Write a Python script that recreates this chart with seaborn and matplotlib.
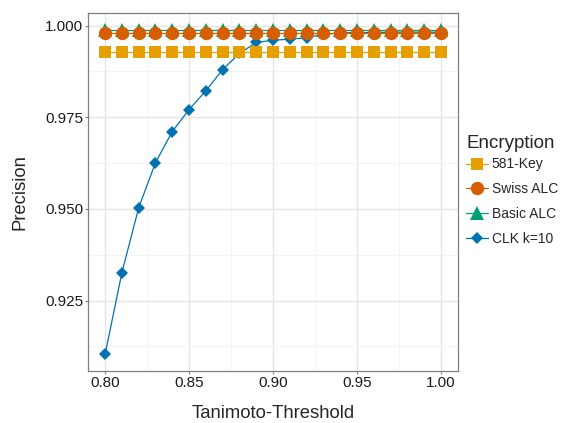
import matplotlib
matplotlib.use("Agg")
import matplotlib.pyplot as plt
import numpy as np
import pandas as pd
import seaborn as sns
from matplotlib.ticker import MultipleLocator

# data
thresholds = [0.80, 0.81, 0.82, 0.83, 0.84, 0.85, 0.86, 0.87, 0.88, 0.89, 0.90,
              0.91, 0.92, 0.93, 0.94, 0.95, 0.96, 0.97, 0.98, 0.99, 1.00]
key581 = [0.9927] * 21
swiss_alc = [0.9981] * 21
basic_alc = [0.9989] * 21
clk_k10 = [0.9103, 0.9326, 0.9503, 0.9626, 0.9711, 0.9771, 0.9822, 0.9880, 0.9924,
           0.9954, 0.9960, 0.9963, 0.9967, 0.9976, 0.9980, 0.9981, 0.9981, 0.9982,
           0.9982, 0.9982, 0.9982]

series_names = ["581-Key", "Swiss ALC", "Basic ALC", "CLK k=10"]
series_vals = [key581, swiss_alc, basic_alc, clk_k10]
colors = ["#E69F00", "#D55E00", "#009E73", "#0072B2"]
markers = ["s", "o", "^", "D"]
marker_sizes = [8.9, 9.6, 10.5, 6.3]
zorders = [3, 5, 4, 2.5]

df = pd.concat(
    [pd.DataFrame({"threshold": thresholds, "precision": v, "Encryption": n})
     for n, v in zip(series_names, series_vals)],
    ignore_index=True,
)

sns.set_style("white")
plt.rcParams["font.family"] = ["Liberation Sans", "DejaVu Sans"]

fig = plt.figure(figsize=(5.66, 4.23), dpi=100)
ax = fig.add_axes([0.156, 0.123, 0.653, 0.846])

sns.lineplot(
    data=df, x="threshold", y="precision",
    hue="Encryption", style="Encryption",
    hue_order=series_names, style_order=series_names,
    palette=dict(zip(series_names, colors)),
    markers=dict(zip(series_names, markers)),
    dashes=False, markersize=9, markeredgewidth=0, linewidth=0.9, ax=ax,
)

# per-series marker size and drawing order (matched by colour)
for line in ax.lines:
    c = matplotlib.colors.to_hex(line.get_color()).upper()
    if c in colors:
        i = colors.index(c)
        line.set_markersize(marker_sizes[i])
        line.set_zorder(zorders[i])

ax.set_xlim(0.79, 1.0101)
ax.set_ylim(0.9058, 1.0034)
ax.xaxis.set_minor_locator(MultipleLocator(0.025))
ax.yaxis.set_minor_locator(MultipleLocator(0.0125))
ax.set_yticks([0.925, 0.95, 0.975, 1.0])
ax.set_yticklabels(["0.925", "0.950", "0.975", "1.000"])
ax.set_xticks([0.80, 0.85, 0.90, 0.95, 1.00])
ax.set_xticklabels(["0.80", "0.85", "0.90", "0.95", "1.00"])

ax.grid(True, which="major", color="#E5E5E5", linewidth=1.0, zorder=0)
ax.grid(True, which="minor", color="#F2F2F2", linewidth=0.6, zorder=0)
ax.set_axisbelow(True)
for s in ax.spines.values():
    s.set_color("#7F7F7F")
    s.set_linewidth(0.9)
ax.tick_params(which="major", length=2, width=0.8, color="#7F7F7F",
               labelsize=11, labelcolor="#1A1A1A", direction="out", pad=1.5,
               bottom=True, left=True)
ax.tick_params(which="minor", length=0)

ax.set_xlabel("Tanimoto-Threshold", fontsize=13.3, labelpad=11)
ax.set_ylabel("Precision", fontsize=13.3, labelpad=12)

sns.move_legend(
    ax, "center left", bbox_to_anchor=(1.0, 0.5045), frameon=False,
    title="Encryption", fontsize=10, title_fontsize=13.5,
    handlelength=1.6, labelspacing=0.78, borderaxespad=0.2, handletextpad=0.25,
)
leg = ax.get_legend()
leg._legend_box.align = "left"
leg._legend_box.sep = 4
for h, ms in zip(leg.legend_handles, marker_sizes):
    h.set_markersize(ms)

fig.savefig("out.png", dpi=100)
